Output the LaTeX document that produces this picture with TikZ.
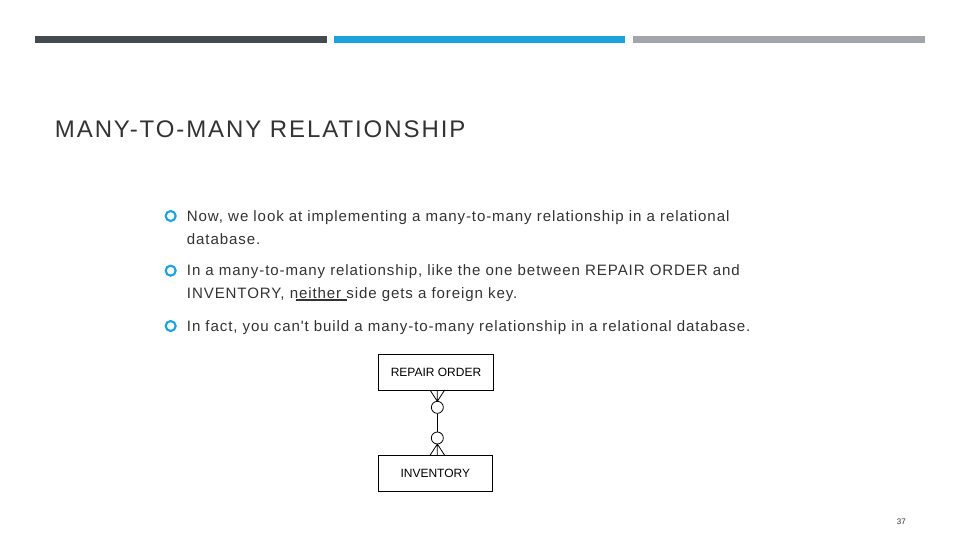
\documentclass[tikz,border=0pt]{standalone}
\usepackage{fontspec}
\setmainfont{Liberation Sans}
\newfontfamily\spaced[LetterSpace=6]{Liberation Sans}
\newfontfamily\tspaced[LetterSpace=8]{Liberation Sans}
\definecolor{barA}{HTML}{434B51}
\definecolor{barB}{HTML}{1CA3DE}
\definecolor{barC}{HTML}{A2A6AA}
\definecolor{txt}{HTML}{333333}
\begin{document}
\begin{tikzpicture}[x=1pt,y=-1pt,
  bul/.style={circle,draw=barB,line width=1.6pt,minimum size=7.5pt,inner sep=0pt},
  para/.style={anchor=north west,align=left,text=txt,font=\spaced\fontsize{11.3}{17.3}\selectfont,inner sep=0pt},
  ent/.style={draw,line width=0.6pt,minimum width=86pt,minimum height=27pt,font=\fontsize{9}{10}\selectfont,inner sep=0pt},
  opt/.style={circle,draw,line width=0.6pt,minimum size=9pt,inner sep=0pt,fill=white}]
\useasboundingbox (0,0) rectangle (720,405);
\fill[barA] (26,27) rectangle (245,32);
\fill[barB] (250.5,27) rectangle (469,32);
\fill[barC] (475,27) rectangle (694,32);
\node[anchor=west,text=txt,font=\tspaced\fontsize{18}{20}\selectfont,inner sep=0pt] (title) at (41,97) {MANY-TO-MANY RELATIONSHIP};
\node[bul] (b1) at (128,162) {};
\node[para] (p1) at (140,157.5) {Now, we look at implementing a many-to-many relationship in a relational\\database.};
\node[bul] (b2) at (128,203) {};
\node[para] (p2) at (140,198.5) {In a many-to-many relationship, like the one between REPAIR ORDER and\\INVENTORY, neither side gets a foreign key.};
\node[bul] (b3) at (128,244.5) {};
\node[para] (p3) at (140,240) {In fact, you can't build a many-to-many relationship in a relational database.};
\draw[txt,line width=2.2pt] (222,225) -- (260.5,225);
\node[ent] (ro) at (327,279.5) {REPAIR ORDER};
\node[ent] (inv) at (326.5,355) {INVENTORY};
\node[opt] (c1) at (328,305.5) {};
\node[opt] (c2) at (328,328.5) {};
\draw[line width=0.6pt] (c1) -- (c2);
\coordinate (t1) at (328,301);
\draw[line width=0.6pt] (t1) -- (322.5,292.5) (t1) -- (328,292.5) (t1) -- (333.5,292.5);
\coordinate (t2) at (328,333);
\draw[line width=0.6pt] (t2) -- (322.5,341.5) (t2) -- (328,341.5) (t2) -- (333.5,341.5);
\node[text=txt,font=\fontsize{6}{7}\selectfont,inner sep=0pt] (pg) at (676,391) {37};
\end{tikzpicture}
\end{document}
